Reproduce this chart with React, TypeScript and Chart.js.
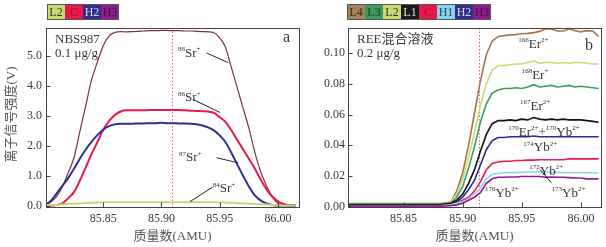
import React, { useEffect, useRef } from "react";
import { Chart, registerables } from "chart.js";
Chart.register(...registerables);

const SERIF = '"Liberation Serif", "Times New Roman", "Noto Sans CJK SC", serif';

// ---------- shared x grid (AMU) ----------
const mass = [
  85.800, 85.805, 85.810, 85.815, 85.820, 85.825, 85.830, 85.835, 85.840, 85.845,
  85.850, 85.855, 85.860, 85.865, 85.870, 85.875, 85.880, 85.885, 85.890, 85.895,
  85.900, 85.905, 85.910, 85.915, 85.920, 85.925, 85.930, 85.935, 85.940, 85.945,
  85.950, 85.955, 85.960, 85.965, 85.970, 85.975, 85.980, 85.985, 85.990, 85.995,
  86.000, 86.005, 86.010, 86.015,
];
const xTicks = [85.85, 85.9, 85.95, 86.0];

// ---------- panel a : NBS987 (V) ----------
const sr88 = [0.02, 0.12, 0.30, 0.62, 1.10, 1.60, 2.48, 3.33, 4.20, 4.80, 5.35, 5.68, 5.80, 5.83, 5.82, 5.83, 5.84, 5.85, 5.86, 5.86, 5.87, 5.87, 5.86, 5.86, 5.85, 5.85, 5.84, 5.83, 5.82, 5.79, 5.62, 5.30, 4.62, 3.95, 3.27, 2.60, 1.80, 1.15, 0.67, 0.30, 0.07, 0.01, 0.00, 0.00];
const sr86 = [0.00, 0.00, 0.02, 0.07, 0.24, 0.45, 0.83, 1.27, 1.72, 2.12, 2.53, 2.83, 3.03, 3.15, 3.19, 3.19, 3.19, 3.19, 3.20, 3.20, 3.20, 3.20, 3.20, 3.20, 3.19, 3.18, 3.17, 3.16, 3.15, 3.11, 2.96, 2.80, 2.52, 2.20, 1.88, 1.57, 1.25, 0.88, 0.55, 0.30, 0.14, 0.05, 0.01, 0.00];
const sr87 = [0.02, 0.15, 0.40, 0.66, 0.92, 1.23, 1.57, 1.87, 2.13, 2.36, 2.54, 2.66, 2.72, 2.74, 2.74, 2.74, 2.75, 2.75, 2.76, 2.76, 2.77, 2.76, 2.76, 2.75, 2.75, 2.74, 2.72, 2.68, 2.62, 2.52, 2.35, 2.12, 1.77, 1.38, 1.00, 0.64, 0.35, 0.17, 0.07, 0.02, 0.00, 0.00, 0.00, 0.00];
const sr84 = [0.00, 0.01, 0.02, 0.03, 0.05, 0.06, 0.07, 0.08, 0.09, 0.10, 0.10, 0.11, 0.11, 0.11, 0.11, 0.11, 0.11, 0.11, 0.11, 0.11, 0.11, 0.11, 0.11, 0.11, 0.11, 0.11, 0.11, 0.11, 0.11, 0.11, 0.10, 0.10, 0.09, 0.08, 0.07, 0.06, 0.05, 0.04, 0.03, 0.02, 0.01, 0.00, 0.00, 0.00];
const yTicksA = [0, 1, 2, 3, 4, 5];

// ---------- panel b : REE mixed solution (V) ----------
const cupL4 = [0.0018, 0.0018, 0.0018, 0.0018, 0.0018, 0.0018, 0.0018, 0.0018, 0.0018, 0.0018, 0.0018, 0.0018, 0.0018, 0.0018, 0.0018, 0.0018, 0.0018, 0.002, 0.003, 0.010, 0.022, 0.040, 0.061, 0.082, 0.099, 0.108, 0.111, 0.1115, 0.112, 0.1122, 0.1127, 0.113, 0.1135, 0.1143, 0.1158, 0.1158, 0.1145, 0.1145, 0.1158, 0.1148, 0.114, 0.1148, 0.1145, 0.111];
const cupL2 = [0.0015, 0.0015, 0.0015, 0.0015, 0.0015, 0.0015, 0.0015, 0.0015, 0.0015, 0.0015, 0.0015, 0.0015, 0.0015, 0.0015, 0.0015, 0.0015, 0.0015, 0.002, 0.003, 0.008, 0.018, 0.032, 0.048, 0.066, 0.080, 0.089, 0.092, 0.092, 0.0925, 0.093, 0.093, 0.094, 0.095, 0.0935, 0.094, 0.094, 0.0935, 0.094, 0.0935, 0.094, 0.094, 0.0935, 0.093, 0.093];
const cupL3 = [0.0015, 0.0015, 0.0015, 0.0015, 0.0015, 0.0015, 0.0015, 0.0015, 0.0015, 0.0015, 0.0015, 0.0015, 0.0015, 0.0015, 0.0015, 0.0015, 0.0015, 0.002, 0.002, 0.006, 0.013, 0.025, 0.039, 0.055, 0.067, 0.074, 0.076, 0.077, 0.077, 0.0775, 0.077, 0.078, 0.0795, 0.078, 0.0785, 0.079, 0.078, 0.0785, 0.079, 0.078, 0.0785, 0.078, 0.0775, 0.077];
const cupL1 = [0.001, 0.001, 0.001, 0.001, 0.001, 0.001, 0.001, 0.001, 0.001, 0.001, 0.001, 0.001, 0.001, 0.001, 0.001, 0.001, 0.001, 0.0015, 0.002, 0.004, 0.008, 0.015, 0.024, 0.036, 0.047, 0.054, 0.056, 0.056, 0.0565, 0.056, 0.057, 0.0565, 0.058, 0.057, 0.0565, 0.057, 0.0565, 0.057, 0.0565, 0.0565, 0.0565, 0.056, 0.0555, 0.055];
const cupH2 = [0.0005, 0.0005, 0.0005, 0.0005, 0.0005, 0.0005, 0.0005, 0.0005, 0.0005, 0.0005, 0.0005, 0.0005, 0.0005, 0.0005, 0.0005, 0.0005, 0.0005, 0.001, 0.001, 0.003, 0.006, 0.011, 0.017, 0.027, 0.037, 0.043, 0.045, 0.045, 0.0455, 0.0455, 0.0455, 0.0455, 0.046, 0.0455, 0.0455, 0.0455, 0.0455, 0.0455, 0.0455, 0.0455, 0.0455, 0.0455, 0.0455, 0.0455];
const cupC = [0.0003, 0.0003, 0.0003, 0.0003, 0.0003, 0.0003, 0.0003, 0.0003, 0.0003, 0.0003, 0.0003, 0.0003, 0.0003, 0.0003, 0.0003, 0.0003, 0.0003, 0.001, 0.001, 0.002, 0.004, 0.006, 0.010, 0.016, 0.024, 0.028, 0.029, 0.0295, 0.0295, 0.030, 0.030, 0.0302, 0.0302, 0.0305, 0.0305, 0.0305, 0.0305, 0.0305, 0.031, 0.031, 0.031, 0.031, 0.031, 0.031];
const cupH1 = [0, 0, 0, 0, 0, 0, 0, 0, 0, 0, 0, 0, 0, 0, 0, 0, 0, 0.0005, 0.001, 0.002, 0.003, 0.005, 0.008, 0.012, 0.018, 0.021, 0.0215, 0.022, 0.022, 0.0222, 0.0222, 0.0225, 0.0225, 0.0222, 0.0222, 0.0222, 0.0222, 0.022, 0.022, 0.022, 0.022, 0.022, 0.022, 0.0218];
const cupH3 = [0, 0, 0, 0, 0, 0, 0, 0, 0, 0, 0, 0, 0, 0, 0, 0, 0, 0.0003, 0.0005, 0.001, 0.002, 0.004, 0.006, 0.009, 0.015, 0.018, 0.019, 0.019, 0.0192, 0.0192, 0.0195, 0.0195, 0.0195, 0.0195, 0.019, 0.0192, 0.019, 0.019, 0.0188, 0.0185, 0.0185, 0.018, 0.018, 0.018];
const yTicksB = [0, 0.02, 0.04, 0.06, 0.08, 0.1];

// ---------- legends (cup names) ----------
const cupsA = ["L2", "C", "H2", "H3"];
const cupsB = ["L4", "L3", "L2", "L1", "C", "H1", "H2", "H3"];
const cupFill: Record<string, string> = {
  L4: "#a5835a", L3: "#3d9a5e", L2: "#c9dc6f", L1: "#1a1a1a",
  C: "#e8174c", H1: "#8cd4f4", H2: "#2e2e8c", H3: "#8b1e8b",
};
const cupText: Record<string, string> = {
  L4: "#3a2a18", L3: "#163a20", L2: "#333333", L1: "#dddddd",
  C: "#a0102c", H1: "#334455", H2: "#dddddd", H3: "#4a0a4a",
};

// ---------- annotation labels ----------
const notesA = [
  { text: "^{88}Sr^{+}", at: [85.9142, 4.98] },
  { text: "^{86}Sr^{+}", at: [85.9142, 3.49] },
  { text: "^{87}Sr^{+}", at: [85.915, 1.48] },
  { text: "^{84}Sr^{+}", at: [85.944, 0.44] },
];
const leadersA = [
  [85.9388, 5.11, 85.9573, 4.79],
  [85.9273, 3.55, 85.9502, 3.12],
  [85.9474, 1.6, 85.9659, 1.43],
  [85.9245, 0.13, 85.944, 0.62],
];
const notesB = [
  { text: "^{166}Er^{2+}", at: [85.947, 0.1033] },
  { text: "^{168}Er^{+}", at: [85.9499, 0.0832] },
  { text: "^{167}Er^{2+}", at: [85.9485, 0.063] },
  { text: "^{170}Er^{2+}+^{170}Yb^{2+}", at: [85.9386, 0.0461] },
  { text: "^{174}Yb^{2+}", at: [85.9513, 0.0359] },
  { text: "^{172}Yb^{2+}", at: [85.9564, 0.0207] },
  { text: "^{176}Yb^{2+}", at: [85.9188, 0.0061] },
  { text: "^{173}Yb^{2+}", at: [85.9752, 0.0061] },
];
const leadersB = [[85.9657, 0.0239, 85.975, 0.0154]];

function drawRich(ctx: CanvasRenderingContext2D, text: string, x: number, y: number, size: number, sup: number) {
  const re = /\^\{([^}]*)\}|([^^]+)/g;
  let m: RegExpExecArray | null;
  let cx = x;
  ctx.textAlign = "left";
  ctx.textBaseline = "alphabetic";
  while ((m = re.exec(text))) {
    if (m[1] !== undefined) {
      ctx.font = `${sup}px ${SERIF}`;
      ctx.fillText(m[1], cx, y - size * 0.45);
      cx += ctx.measureText(m[1]).width;
    } else {
      ctx.font = `${size}px ${SERIF}`;
      ctx.fillText(m[2], cx, y);
      cx += ctx.measureText(m[2]).width;
    }
  }
}

type PanelOpts = {
  marker: number;
  cups: string[];
  legendX: number;
  legendW: number;
  notes: { text: string; at: number[] }[];
  leaders: number[][];
  corner: string;
  info: string[];
  yTitle?: string;
};

function panelPlugin(o: PanelOpts) {
  return {
    id: "panelDecor",
    beforeDatasetsDraw(chart: any) {
      const { ctx, chartArea: a, scales } = chart;
      const px = Math.round(scales.x.getPixelForValue(o.marker)) + 0.5;
      ctx.save();
      ctx.strokeStyle = "#f2557d";
      ctx.lineWidth = 1;
      ctx.setLineDash([1.5, 2]);
      ctx.beginPath();
      ctx.moveTo(px, a.top);
      ctx.lineTo(px, a.bottom);
      ctx.stroke();
      ctx.restore();
    },
    afterDraw(chart: any) {
      const { ctx, chartArea: a, scales } = chart;
      ctx.save();
      // frame
      ctx.strokeStyle = "#444";
      ctx.lineWidth = 1;
      const L = Math.round(a.left) + 0.5, T = Math.round(a.top) + 0.5;
      const R = Math.round(a.right) + 0.5, B = Math.round(a.bottom) + 0.5;
      ctx.strokeRect(L, T, R - L, B - T);
      // inward ticks
      ctx.beginPath();
      scales.y.ticks.forEach((t: any) => {
        const y = Math.round(scales.y.getPixelForValue(t.value)) + 0.5;
        ctx.moveTo(L, y);
        ctx.lineTo(L + 4, y);
      });
      scales.x.ticks.forEach((t: any) => {
        const x = Math.round(scales.x.getPixelForValue(t.value)) + 0.5;
        ctx.moveTo(x, B);
        ctx.lineTo(x, B - 5);
      });
      ctx.stroke();

      // legend boxes
      const ly = 4, lh = 16;
      o.cups.forEach((c, i) => {
        const x = o.legendX + i * o.legendW;
        ctx.fillStyle = cupFill[c];
        ctx.fillRect(x, ly, o.legendW, lh);
        ctx.fillStyle = cupText[c];
        ctx.font = `12px ${SERIF}`;
        ctx.textAlign = "center";
        ctx.textBaseline = "middle";
        ctx.fillText(c, x + o.legendW / 2, ly + lh / 2 + 1);
      });
      ctx.strokeStyle = "#555";
      ctx.strokeRect(o.legendX + 0.5, ly + 0.5, o.cups.length * o.legendW - 1, lh - 1);

      // info text
      ctx.fillStyle = "#3a3a3a";
      ctx.textAlign = "left";
      ctx.textBaseline = "alphabetic";
      ctx.font = `13px ${SERIF}`;
      ctx.fillText(o.info[0], a.left + 9, a.top + 15);
      ctx.fillText(o.info[1], a.left + 9, a.top + 29);
      ctx.font = `16px ${SERIF}`;
      ctx.fillText(o.corner, a.right - 16, o.corner === "a" ? a.top + 14 : a.top + 22);

      // notes
      ctx.fillStyle = "#333";
      o.notes.forEach((n) => {
        drawRich(ctx, n.text, scales.x.getPixelForValue(n.at[0]), scales.y.getPixelForValue(n.at[1]), 13, 7);
      });
      ctx.strokeStyle = "#222";
      ctx.lineWidth = 1;
      ctx.beginPath();
      o.leaders.forEach((l) => {
        ctx.moveTo(scales.x.getPixelForValue(l[0]), scales.y.getPixelForValue(l[1]));
        ctx.lineTo(scales.x.getPixelForValue(l[2]), scales.y.getPixelForValue(l[3]));
      });
      ctx.stroke();

      // axis titles
      ctx.fillStyle = "#555";
      ctx.font = `13px ${SERIF}`;
      ctx.textAlign = "center";
      ctx.textBaseline = "middle";
      ctx.fillText("质量数(AMU)", (a.left + a.right) / 2, 237);
      if (o.yTitle) {
        ctx.save();
        ctx.translate(12, (a.top + a.bottom) / 2 - 3);
        ctx.rotate(-Math.PI / 2);
        ctx.fillText(o.yTitle, 0, 0);
        ctx.restore();
      }
      ctx.restore();
    },
  };
}

function makeConfig(p: {
  datasets: any[];
  xMin: number; xMax: number; yMin: number; yMax: number;
  yTicks: number[]; yDigits: number; yWidth: number; yPad: number; padRight: number;
  plugin: any;
}) {
  const tickFont = { family: SERIF, size: 12 };
  return {
    type: "line" as const,
    data: { datasets: p.datasets },
    options: {
      animation: false as const,
      responsive: false,
      maintainAspectRatio: false,
      layout: { padding: { top: 28, right: p.padRight, left: 0, bottom: 0 } },
      plugins: { legend: { display: false }, tooltip: { enabled: false } },
      elements: { point: { radius: 0 } },
      scales: {
        x: {
          type: "linear" as const,
          min: p.xMin,
          max: p.xMax,
          grid: { display: false, drawTicks: false },
          border: { display: false },
          afterBuildTicks: (s: any) => { s.ticks = xTicks.map((v) => ({ value: v })); },
          afterFit: (s: any) => { s.height = 40; },
          ticks: {
            autoSkip: false, maxRotation: 0, padding: 5, color: "#3a3a3a", font: tickFont,
            callback: (v: any) => Number(v).toFixed(2),
          },
        },
        y: {
          type: "linear" as const,
          min: p.yMin,
          max: p.yMax,
          grid: { display: false, drawTicks: false },
          border: { display: false },
          afterBuildTicks: (s: any) => { s.ticks = p.yTicks.map((v) => ({ value: v })); },
          afterFit: (s: any) => { s.width = p.yWidth; },
          ticks: {
            padding: p.yPad, color: "#3a3a3a", font: tickFont,
            callback: (v: any) => Number(v).toFixed(p.yDigits),
          },
        },
      },
    },
    plugins: [p.plugin],
  };
}

function series(values: number[], color: string, width: number, smooth: boolean) {
  return {
    data: mass.map((m, i) => ({ x: m, y: values[i] })),
    borderColor: color,
    borderWidth: width,
    fill: false,
    tension: smooth ? 0.4 : 0,
    cubicInterpolationMode: smooth ? ("monotone" as const) : ("default" as const),
    pointRadius: 0,
  };
}

export default function App() {
  const leftRef = useRef<HTMLCanvasElement>(null);
  const rightRef = useRef<HTMLCanvasElement>(null);

  useEffect(() => {
    const left = new Chart(
      leftRef.current as HTMLCanvasElement,
      makeConfig({
        datasets: [
          series(sr84, "#c5d870", 2, true),
          series(sr87, "#2d2d9a", 2, true),
          series(sr86, "#e8174c", 2, true),
          series(sr88, "#7d2f45", 1.2, true),
        ],
        xMin: 85.801, xMax: 86.018, yMin: -0.05, yMax: 5.95,
        yTicks: yTicksA, yDigits: 1, yWidth: 46, yPad: 4, padRight: 4,
        plugin: panelPlugin({
          marker: 85.909, cups: cupsA, legendX: 47, legendW: 18, notes: notesA, leaders: leadersA,
          corner: "a", info: ["NBS987", "0.1 μg/g"], yTitle: "离子信号强度(V)",
        }),
      }) as any
    );
    const right = new Chart(
      rightRef.current as HTMLCanvasElement,
      makeConfig({
        datasets: [
          series(cupH3, "#8e1c8e", 1.6, false),
          series(cupH1, "#8ed4f6", 1.6, false),
          series(cupC, "#e81a4c", 1.6, false),
          series(cupH2, "#2b2b9b", 1.6, false),
          series(cupL1, "#111111", 1.6, false),
          series(cupL3, "#3b9c5c", 1.6, false),
          series(cupL2, "#c6dc74", 1.6, false),
          series(cupL4, "#a5764c", 1.6, false),
        ],
        xMin: 85.803, xMax: 86.017, yMin: -0.0004, yMax: 0.1165,
        yTicks: yTicksB, yDigits: 2, yWidth: 45, yPad: 3, padRight: 5,
        plugin: panelPlugin({
          marker: 85.914, cups: cupsB, legendX: 44, legendW: 18, notes: notesB, leaders: leadersB,
          corner: "b", info: ["REE混合溶液", "0.2 μg/g"],
        }),
      }) as any
    );
    return () => {
      left.destroy();
      right.destroy();
    };
  }, []);

  return (
    <div style={{ position: "fixed", left: 0, top: 0, width: 606, height: 247, background: "#fff" }}>
      <canvas ref={leftRef} width={303} height={247} style={{ position: "absolute", left: 0, top: 0, width: 303, height: 247 }} />
      <canvas ref={rightRef} width={303} height={247} style={{ position: "absolute", left: 303, top: 0, width: 303, height: 247 }} />
    </div>
  );
}
